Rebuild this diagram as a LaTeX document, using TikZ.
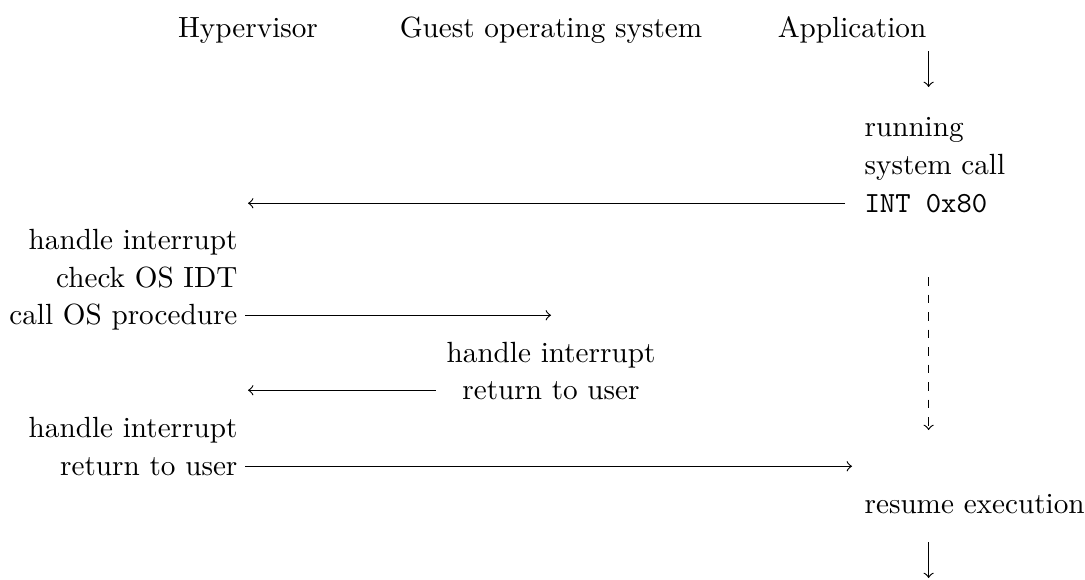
\documentclass[tikz,border=0pt]{standalone}
\usepackage{amsmath}
\usepackage{tikz}
\tikzset{
    lane-title/.style = {inner sep=0pt, anchor=base},
    step-text/.style = {inner sep=0pt, text height=6pt, text depth=0pt},
    step-left/.style = {step-text, anchor=base east},
    step-right/.style = {step-text, anchor=base west},
    step-mid/.style = {step-text, anchor=base},
    call-arrow/.style = {->, thin},
}

\begin{document}
\begin{tikzpicture}[x=0.3425pt, y=-0.3425pt]
\useasboundingbox (0,0) rectangle (1085,579);
% lanes
\node[lane-title] (hyp) at (248,37) {Hypervisor};
\node[lane-title] (guest) at (551,37) {Guest operating system};
\node[lane-title] (app) at (852,37) {Application};

% application
\coordinate (app-start) at (928.6,51);
\coordinate (app-run) at (928.6,87);
\draw[call-arrow] (app-start) -- (app-run);
\node[step-right] (running) at (864,136) {running};
\node[step-right] (syscall) at (864,174) {system call};
\node[step-right] (int) at (864,212) {\texttt{INT 0x80}};

% hypervisor
\node[step-left] (hyp-handle) at (238,249) {handle interrupt};
\node[step-left] (hyp-check) at (238,287) {check OS IDT};
\node[step-left] (hyp-call) at (238,324) {call OS procedure};

% guest
\node[step-mid] (guest-handle) at (551,362) {handle interrupt};
\node[step-mid] (guest-return) at (551,399) {return to user};

% hypervisor again
\node[step-left] (hyp-handle2) at (238,437) {handle interrupt};
\node[step-left] (hyp-return) at (238,475) {return to user};

\node[step-right] (resume) at (864,513) {resume execution};

\draw[call-arrow, shorten <=6.5pt] (int.west) -- (int.west -| hyp);
\draw[call-arrow, shorten <=2.4pt] (hyp-call.east) -- (hyp-call.east -| guest);
\draw[call-arrow, shorten <=8.9pt] (guest-return.west) -- (guest-return.west -| hyp);
\draw[call-arrow, shorten <=2.4pt] (hyp-return.east) -- (hyp-return.east -| app);

% waiting
\coordinate (wait-start) at (928.6,277);
\coordinate (wait-end) at (928.6,430);
\draw[call-arrow, dashed] (wait-start) -- (wait-end);

\coordinate (app-go) at (928.6,542);
\coordinate (app-end) at (928.6,578);
\draw[call-arrow] (app-go) -- (app-end);
\end{tikzpicture}
\end{document}
